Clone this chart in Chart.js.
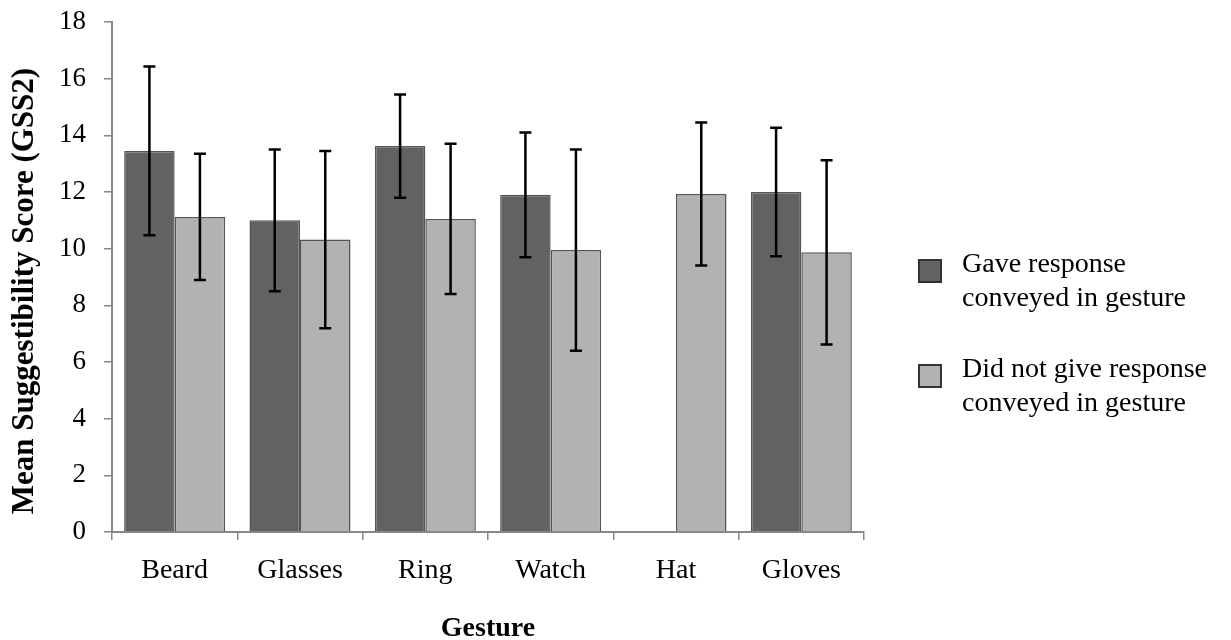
<!DOCTYPE html>
<html>
<head>
  <meta charset="UTF-8">
  <title>Mean Suggestibility Score by Gesture</title>
  <script src="https://cdn.jsdelivr.net/npm/chart.js"></script>
  <style>
    body {
      margin: 0;
      background: white;
      font-family: "Liberation Serif", "Times New Roman", serif;
    }
    #wrap {
      position: relative;
      width: 1231px;
      height: 640px;
    }
    #legend {
      position: absolute;
      left: 918px;
      top: 0;
    }
    .item {
      position: absolute;
      left: 0;
      width: 320px;
    }
    .swatch {
      position: absolute;
      left: 0;
      width: 20px;
      height: 20px;
      border: 2px solid #333;
    }
    .label {
      position: absolute;
      left: 44px;
      font-size: 28px;
      line-height: 34px;
      color: #000;
      white-space: nowrap;
    }
  </style>
</head>
<body>
<div id="wrap">
  <canvas id="chart" width="1231" height="640"></canvas>
  <div id="legend"></div>
</div>

<script>
  // values
  const gestures = ['Beard', 'Glasses', 'Ring', 'Watch', 'Hat', 'Gloves'];
  const gaveMeans = [13.45, 11.0, 13.62, 11.9, null, 12.0];
  const gaveErrs = [2.98, 2.5, 1.82, 2.2, null, 2.27];
  const notGaveMeans = [11.12, 10.32, 11.05, 9.95, 11.93, 9.87];
  const notGaveErrs = [2.23, 3.13, 2.65, 3.55, 2.52, 3.25];
  const seriesLabels = [
    ['Gave response', 'conveyed in gesture'],
    ['Did not give response', 'conveyed in gesture']
  ];
  const yTicks = [0, 2, 4, 6, 8, 10, 12, 14, 16, 18];
  const yTitle = 'Mean Suggestibility Score (GSS2)';

  const serif = '"Liberation Serif", "Times New Roman", serif';
  const errs = [gaveErrs, notGaveErrs];

  // draws the error bars on top of the bars
  const errorBars = {
    id: 'errorBars',
    afterDatasetsDraw(chart) {
      const ctx = chart.ctx;
      const y = chart.scales.y;
      ctx.save();
      ctx.strokeStyle = '#000';
      ctx.lineWidth = 2.5;
      chart.data.datasets.forEach((ds, i) => {
        const meta = chart.getDatasetMeta(i);
        meta.data.forEach((bar, j) => {
          const v = ds.data[j];
          const e = errs[i][j];
          if (v == null || e == null) return;
          const top = y.getPixelForValue(v + e);
          const bot = y.getPixelForValue(v - e);
          ctx.beginPath();
          ctx.moveTo(bar.x, top);
          ctx.lineTo(bar.x, bot);
          ctx.moveTo(bar.x - 6, top);
          ctx.lineTo(bar.x + 6, top);
          ctx.moveTo(bar.x - 6, bot);
          ctx.lineTo(bar.x + 6, bot);
          ctx.stroke();
        });
      });
      ctx.restore();
    }
  };

  // y axis title, sits a little below the middle of the axis like the original
  const yAxisTitle = {
    id: 'yAxisTitle',
    afterDraw(chart) {
      const ctx = chart.ctx;
      const area = chart.chartArea;
      ctx.save();
      ctx.translate(25, (area.top + area.bottom) / 2 + 14);
      ctx.rotate(-Math.PI / 2);
      ctx.font = 'bold 31px ' + serif;
      ctx.fillStyle = '#000';
      ctx.textAlign = 'center';
      ctx.textBaseline = 'middle';
      ctx.fillText(yTitle, 0, 0);
      ctx.restore();
    }
  };

  const colors = ['#626262', '#b2b2b2'];

  const chart = new Chart(document.getElementById('chart'), {
    type: 'bar',
    data: {
      labels: gestures,
      datasets: [
        {
          label: seriesLabels[0].join(' '),
          data: gaveMeans,
          backgroundColor: colors[0],
          borderColor: '#555',
          borderWidth: 1.5
        },
        {
          label: seriesLabels[1].join(' '),
          data: notGaveMeans,
          backgroundColor: colors[1],
          borderColor: '#555',
          borderWidth: 1.5
        }
      ]
    },
    options: {
      responsive: false,
      animation: false,
      layout: { padding: { left: 0, top: 22, right: 367, bottom: 0 } },
      datasets: {
        bar: { categoryPercentage: 0.806, barPercentage: 1 }
      },
      plugins: {
        legend: { display: false },
        tooltip: { enabled: false }
      },
      scales: {
        x: {
          afterFit(s) { s.height = 108; s.paddingLeft = 0; s.paddingRight = 0; },
          grid: { drawOnChartArea: false, tickLength: 8, color: '#888', lineWidth: 1.5 },
          border: { color: '#888', width: 2 },
          ticks: { color: '#000', padding: 14, font: { family: serif, size: 28 } },
          title: {
            display: true,
            text: 'Gesture',
            color: '#000',
            padding: { top: 0, bottom: -6 },
            font: { family: serif, size: 28, weight: 'bold' }
          }
        },
        y: {
          min: 0,
          max: 18,
          afterFit(s) { s.width = 112; s.paddingTop = 0; s.paddingBottom = 0; },
          afterBuildTicks(s) { s.ticks = yTicks.map(v => ({ value: v })); },
          grid: { drawOnChartArea: false, tickLength: 8, color: '#888', lineWidth: 1.5 },
          border: { color: '#888', width: 2 },
          ticks: { color: '#000', padding: 18, font: { family: serif, size: 27 } }
        }
      }
    },
    plugins: [errorBars, yAxisTitle]
  });

  // legend on the right, two lines per entry
  const legend = document.getElementById('legend');
  const tops = [246, 351];
  seriesLabels.forEach((lines, i) => {
    const item = document.createElement('div');
    item.className = 'item';
    item.style.top = tops[i] + 'px';
    item.innerHTML = `<div class="swatch" style="top:13px;background:${colors[i]}"></div>` +
      `<div class="label">${lines.join('<br>')}</div>`;
    legend.appendChild(item);
  });
</script>
</body>
</html>
